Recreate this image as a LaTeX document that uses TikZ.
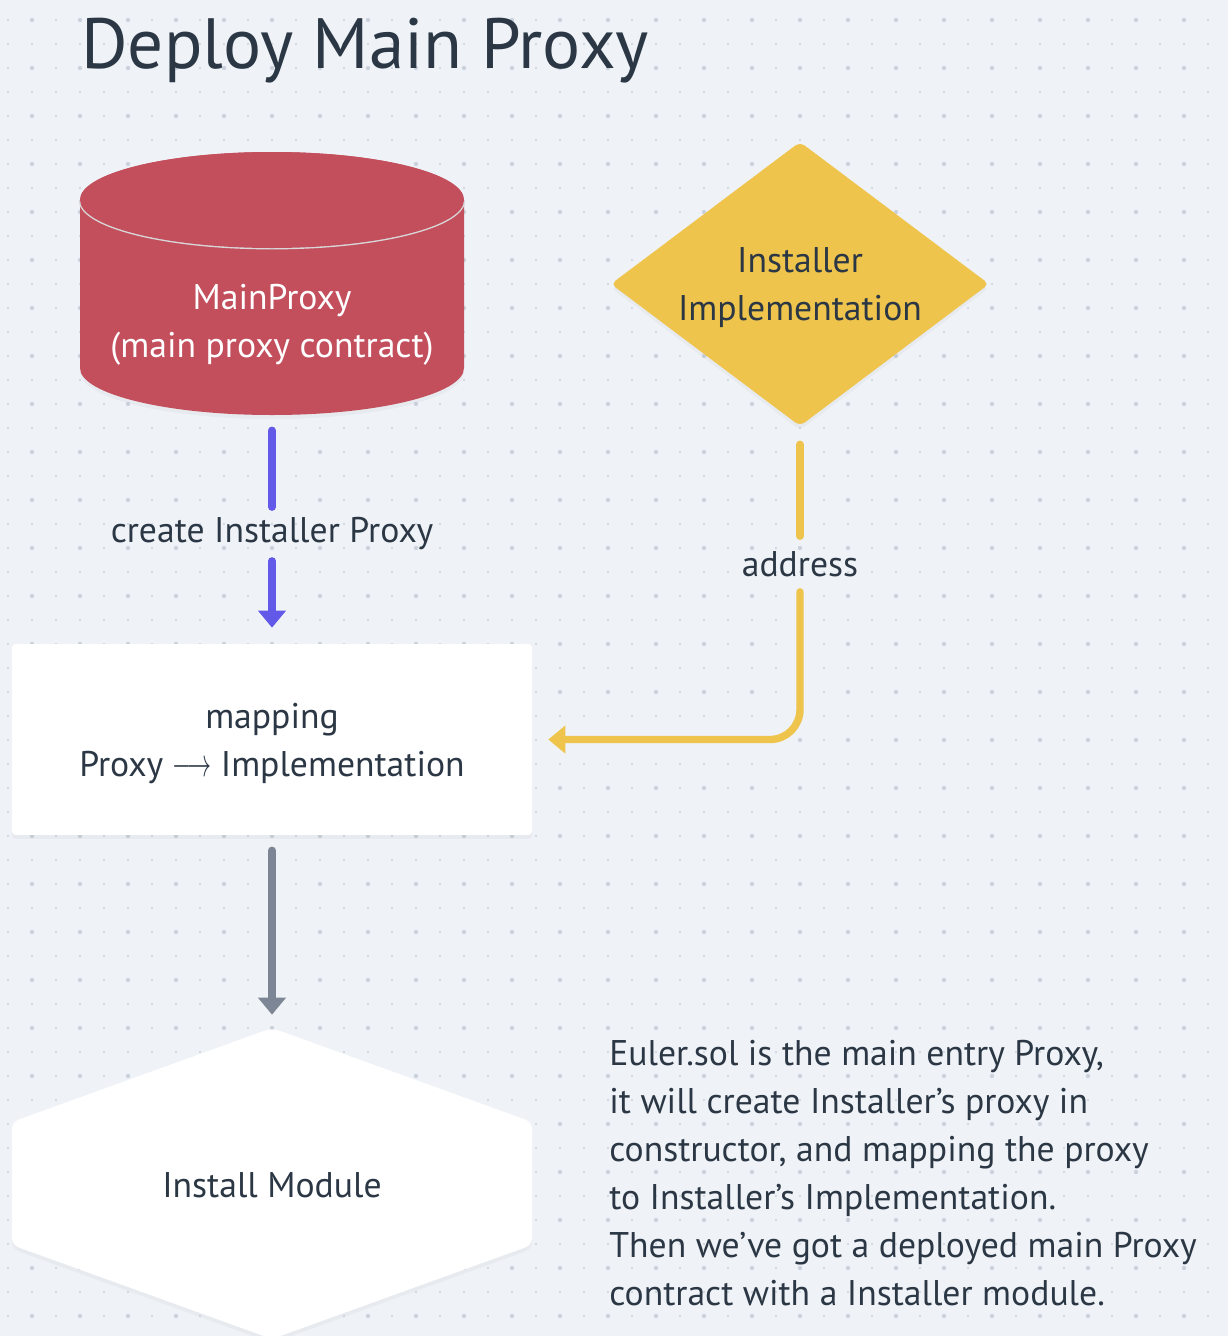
\documentclass[tikz,border=0pt]{standalone}
\usepackage{fontspec}
\setmainfont{PT Sans}
\usetikzlibrary{arrows.meta, positioning, shapes.geometric, shadows}

\definecolor{bgcol}{HTML}{EFF3F7}
\definecolor{dotcol}{HTML}{CBD2DD}
\definecolor{inkcol}{HTML}{2B3744}
\definecolor{redcol}{HTML}{C34F5D}
\definecolor{rimcol}{HTML}{D8D8DA}
\definecolor{yellowcol}{HTML}{EFC44C}
\definecolor{bluecol}{HTML}{6259E9}
\definecolor{graycol}{HTML}{7C8694}

\tikzset{
  txt/.style={font=\fontsize{20.3}{27.3}\selectfont, text=inkcol},
  flow/.style={line width=4.2pt, line cap=round},
  tipped/.style={-{Triangle[length=0.34cm, width=0.54cm]}},
  lbl/.style={txt, inner sep=0pt, minimum height=1.06cm},
  softshadow/.style={drop shadow={opacity=0.07, shadow xshift=0pt, shadow yshift=-0.08cm}},
}

\begin{document}
\begin{tikzpicture}[x=0.02cm, y=-0.02cm]
  % background and dot grid
  \useasboundingbox (0,0) rectangle (1228,1336);
  \fill[bgcol] (0,0) rectangle (1228,1336);
  \foreach \x in {8,32,...,1220}
    \foreach \y in {20,44,...,1336}
      \fill[dotcol] (\x,\y) circle[radius=1.2];
  \foreach \x in {32,80,...,1220}
    \foreach \y in {20,68,...,1336}
      \fill[dotcol] (\x,\y) circle[radius=2.2];

  \node[anchor=base west, inner sep=0pt, text=inkcol,
        font=\fontsize{40.5}{48}\selectfont] (title) at (81,68) {Deploy Main Proxy};

  % main proxy cylinder
  \fill[redcol, softshadow]
    (80,200) -- (80,368) arc[start angle=180, end angle=0, x radius=192, y radius=47]
    -- (464,200) arc[start angle=0, end angle=-180, x radius=192, y radius=48] -- cycle;
  \draw[rimcol, line width=1.6pt] (80,200) arc[start angle=180, end angle=0, x radius=192, y radius=48];
  \fill[redcol] (272,200) ellipse[x radius=192, y radius=48];
  \node[minimum width=7.68cm, minimum height=5.26cm, inner sep=0pt] (mainproxy) at (272,283.5) {};
  \node[txt, text=white, align=center] (mainlbl) at (272,325) {MainProxy\\(main proxy contract)};

  % installer implementation
  \path[fill=yellowcol, rounded corners=3pt, softshadow]
    (800,142) -- (989,284) -- (800,426) -- (611,284) -- cycle;
  \node[txt, align=center, inner sep=0pt, minimum width=7.56cm, minimum height=5.68cm]
        (installer) at (800,288) {Installer\\Implementation};

  % mapping box
  \node[txt, fill=white, align=center, rounded corners=2pt, softshadow,
        minimum width=10.4cm, minimum height=3.82cm] (mapping) at (272,739.5)
        {\rule{0pt}{0.66cm}mapping\\Proxy \scalebox{0.66}[1.1]{$\longrightarrow$} Implementation};

  % install module hexagon
  \path[fill=white, rounded corners=4pt, softshadow]
    (272,1028) -- (532,1122) -- (532,1245) -- (272,1339) -- (12,1245) -- (12,1122) -- cycle;
  \node[txt, minimum width=10.4cm, minimum height=6.22cm, inner sep=0pt] (install) at (272,1185.5) {Install Module};

  % labels on connectors
  \node[lbl] (lblcreate) at (272,534) {create Installer Proxy};
  \node[lbl, minimum height=1.1cm] (lbladdr) at (800,564) {address};

  % connectors
  \draw[flow, bluecol, shorten <=0.3cm] (mainproxy) -- (lblcreate);
  \draw[flow, bluecol, tipped, shorten >=0.32cm] (lblcreate) -- (mapping);
  \draw[flow, yellowcol, shorten <=0.28cm] (installer) -- (lbladdr);
  \draw[flow, yellowcol, tipped, rounded corners=0.6cm, shorten >=0.32cm] (lbladdr) |- (mapping);
  \draw[flow, graycol, tipped, shorten <=0.3cm, shorten >=0.3cm] (mapping) -- (install);

  % note
  \node[txt, anchor=north west, align=left, inner sep=0pt] (note) at (609,1040)
    {Euler.sol is the main entry Proxy,\\
     it will create Installer’s proxy in\\
     constructor, and mapping the proxy\\
     to Installer’s Implementation.\\
     Then we’ve got a deployed main Proxy\\
     contract with a Installer module.};
\end{tikzpicture}
\end{document}
